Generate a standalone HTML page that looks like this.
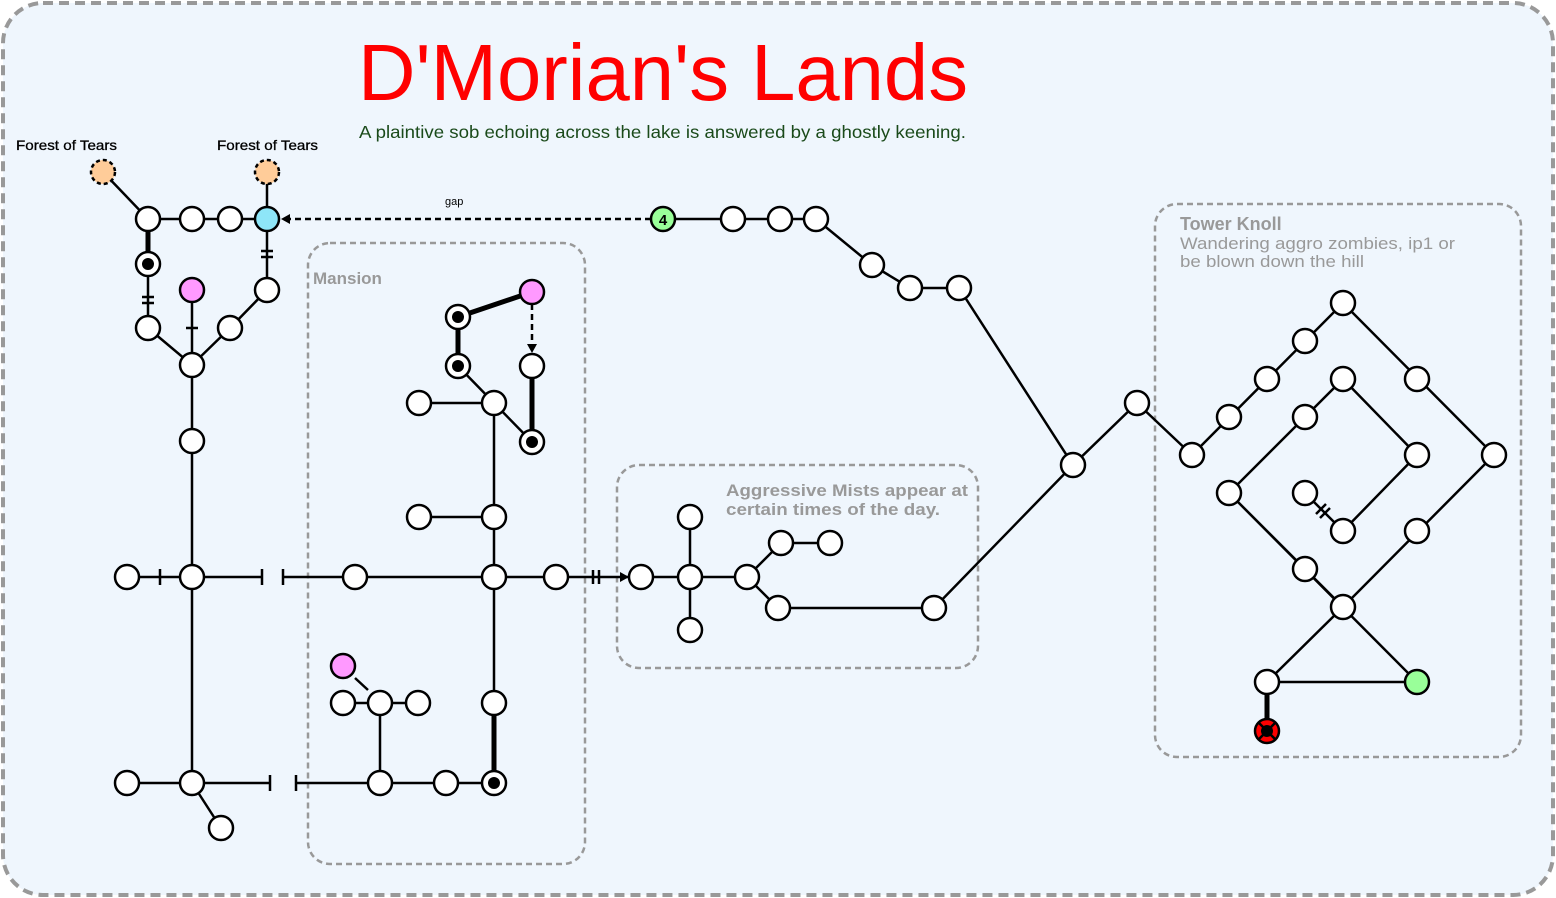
<!DOCTYPE html>
<html><head><meta charset="utf-8"><style>
html,body{margin:0;padding:0;background:#fff}
svg{display:block}
text{font-family:"Liberation Sans",sans-serif}
</style></head><body>
<svg width="1556" height="898" viewBox="0 0 1556 898" xmlns="http://www.w3.org/2000/svg">
<defs>
<marker id="ar" markerWidth="10" markerHeight="10" refX="8" refY="5" orient="auto" markerUnits="userSpaceOnUse"><path d="M0,0 L9,5 L0,10 z" fill="#000"/></marker>
</defs>
<rect x="3" y="3" width="1550" height="892" rx="40" fill="#eff6fd" stroke="#999" stroke-width="4" stroke-dasharray="10,6"/>
<text x="358" y="100" font-size="80" fill="#ff0000" textLength="610" lengthAdjust="spacingAndGlyphs">D'Morian's Lands</text>
<text x="359" y="138" font-size="17.5" fill="#1a4a1a" textLength="607" lengthAdjust="spacingAndGlyphs">A plaintive sob echoing across the lake is answered by a ghostly keening.</text>
<text x="16" y="150" font-size="14" fill="#000" stroke="#000" stroke-width="0.3" textLength="101" lengthAdjust="spacingAndGlyphs">Forest of Tears</text>
<text x="217" y="150" font-size="14" fill="#000" stroke="#000" stroke-width="0.3" textLength="101" lengthAdjust="spacingAndGlyphs">Forest of Tears</text>
<text x="445" y="205" font-size="11" fill="#000">gap</text>

<g fill="none" stroke="#999" stroke-width="2.5" stroke-dasharray="6,4">
<rect x="308" y="243" width="277" height="621" rx="22"/>
<rect x="617" y="465" width="361" height="203" rx="22"/>
<rect x="1155" y="204" width="366" height="553" rx="22"/>
</g>
<text x="313" y="284" font-size="17" font-weight="bold" fill="#999">Mansion</text>
<text x="726" y="496" font-size="17" font-weight="bold" fill="#999" textLength="242" lengthAdjust="spacingAndGlyphs">Aggressive Mists appear at</text>
<text x="726" y="515" font-size="17" font-weight="bold" fill="#999" textLength="214" lengthAdjust="spacingAndGlyphs">certain times of the day.</text>
<text x="1180" y="230" font-size="18" font-weight="bold" fill="#999">Tower Knoll</text>
<text x="1180" y="249" font-size="17" fill="#999" textLength="275" lengthAdjust="spacingAndGlyphs">Wandering aggro zombies, ip1 or</text>
<text x="1180" y="267" font-size="17" fill="#999" textLength="184" lengthAdjust="spacingAndGlyphs">be blown down the hill</text>

<g stroke="#000" stroke-width="2.5" fill="none">
<path d="M103,172 L148,219 L267,219 L267,172"/>
<path d="M148,264 L148,328 M267,219 L267,290 L230,328 L192,365 L148,328 M192,290 L192,365 L192,783 M127,577 L262,577 M283,577 L599,577"/>
<path d="M127,783 L270,783 M296,783 L494,783 M192,783 L221,828"/>
<path d="M380,783 L380,703 M343,703 L418,703 M355,678 L368,690"/>
<path d="M494,783 L494,403 L419,403 M494,517 L419,517 M458,366 L494,403 L532,442"/>
<path d="M160,569 L160,585 M262,569 L262,585 M283,569 L283,585 M270,775 L270,791 M296,775 L296,791"/>
<path d="M186,328 L198,328 M142,297 L154,297 M142,303 L154,303 M261,251 L273,251 M261,257 L273,257 M593,570 L593,584 M599,570 L599,584"/>
<path d="M641,577 L747,577 M690,517 L690,630 M747,577 L781,543 L830,543 M747,577 L778,608 L934,608 L1073,465"/>
<path d="M663,219 L816,219 L872,265 L910,288 L959,288 L1073,465 L1137,403 L1192,455 L1343,303 L1494,455 L1343,607"/>
<path d="M1229,493 L1343,379 L1417,455 L1343,531 L1305,493 M1229,493 L1343,607 L1267,682 L1417,682 Z"/>
<path d="M1316,514 L1326,504 M1320,518 L1330,508"/>
</g>
<g stroke="#000" stroke-width="5" fill="none">
<path d="M148,219 L148,264 M458,317 L458,366 M458,317 L532,292 M532,366 L532,442 M494,703 L494,783 M1267,682 L1267,731"/>
</g>
<g stroke="#000" stroke-width="2.5" fill="none" stroke-dasharray="6,4">
<path d="M651,219 L282,219" marker-end="url(#ar)"/>
<path d="M532,304 L532,352" marker-end="url(#ar)"/>
</g>
<path d="M599,577 L628,577" stroke="#000" stroke-width="2.5" marker-end="url(#ar)"/>

<g stroke="#000" stroke-width="2.5" fill="#fff">
<circle cx="192" cy="219" r="12"/><circle cx="230" cy="219" r="12"/><circle cx="148" cy="219" r="12"/>
<circle cx="148" cy="328" r="12"/><circle cx="230" cy="328" r="12"/><circle cx="267" cy="290" r="12"/>
<circle cx="192" cy="365" r="12"/><circle cx="192" cy="441" r="12"/><circle cx="192" cy="577" r="12"/>
<circle cx="127" cy="577" r="12"/><circle cx="355" cy="577" r="12"/><circle cx="494" cy="577" r="12"/><circle cx="556" cy="577" r="12"/>
<circle cx="192" cy="783" r="12"/><circle cx="127" cy="783" r="12"/><circle cx="221" cy="828" r="12"/>
<circle cx="380" cy="783" r="12"/><circle cx="446" cy="783" r="12"/>
<circle cx="380" cy="703" r="12"/><circle cx="343" cy="703" r="12"/><circle cx="418" cy="703" r="12"/>
<circle cx="494" cy="703" r="12"/><circle cx="494" cy="517" r="12"/><circle cx="419" cy="517" r="12"/>
<circle cx="494" cy="403" r="12"/><circle cx="419" cy="403" r="12"/><circle cx="532" cy="366" r="12"/>
<circle cx="641" cy="577" r="12"/><circle cx="690" cy="577" r="12"/><circle cx="690" cy="517" r="12"/><circle cx="690" cy="630" r="12"/>
<circle cx="747" cy="577" r="12"/><circle cx="781" cy="543" r="12"/><circle cx="830" cy="543" r="12"/>
<circle cx="778" cy="608" r="12"/><circle cx="934" cy="608" r="12"/>
<circle cx="733" cy="219" r="12"/><circle cx="780" cy="219" r="12"/><circle cx="816" cy="219" r="12"/>
<circle cx="872" cy="265" r="12"/><circle cx="910" cy="288" r="12"/><circle cx="959" cy="288" r="12"/>
<circle cx="1073" cy="465" r="12"/><circle cx="1137" cy="403" r="12"/><circle cx="1192" cy="455" r="12"/>
<circle cx="1229" cy="417" r="12"/><circle cx="1267" cy="379" r="12"/><circle cx="1305" cy="341" r="12"/><circle cx="1343" cy="303" r="12"/>
<circle cx="1417" cy="379" r="12"/><circle cx="1494" cy="455" r="12"/><circle cx="1417" cy="531" r="12"/><circle cx="1343" cy="607" r="12"/>
<circle cx="1229" cy="493" r="12"/><circle cx="1305" cy="417" r="12"/><circle cx="1343" cy="379" r="12"/><circle cx="1417" cy="455" r="12"/>
<circle cx="1343" cy="531" r="12"/><circle cx="1305" cy="493" r="12"/><circle cx="1305" cy="569" r="12"/><circle cx="1267" cy="682" r="12"/>
<circle cx="148" cy="264" r="12"/><circle cx="458" cy="317" r="12"/><circle cx="458" cy="366" r="12"/><circle cx="532" cy="442" r="12"/><circle cx="494" cy="783" r="12"/>
</g>
<g fill="#000">
<circle cx="148" cy="264" r="6"/><circle cx="458" cy="317" r="6"/><circle cx="458" cy="366" r="6"/><circle cx="532" cy="442" r="6"/><circle cx="494" cy="783" r="6"/>
</g>
<g stroke="#000" stroke-width="2.5">
<circle cx="267" cy="219" r="12" fill="#8ee6f8"/>
<circle cx="192" cy="290" r="12" fill="#ff99ff"/>
<circle cx="532" cy="292" r="12" fill="#ff99ff"/>
<circle cx="343" cy="666" r="12" fill="#ff99ff"/>
<circle cx="663" cy="219" r="12" fill="#99ff99"/>
<circle cx="1417" cy="682" r="12" fill="#99ff99"/>
<circle cx="103" cy="172" r="12" fill="#ffcc99" stroke-dasharray="4,3"/>
<circle cx="267" cy="172" r="12" fill="#ffcc99" stroke-dasharray="4,3"/>
<circle cx="1267" cy="731" r="12" fill="#ff0000"/>
</g>
<circle cx="1267" cy="731" r="6" fill="#000"/>
<path d="M1259,723 L1275,739 M1275,723 L1259,739" stroke="#000" stroke-width="2.5"/>
<text x="663" y="225" font-size="15" font-weight="bold" text-anchor="middle" fill="#000">4</text>
</svg>
</body></html>
